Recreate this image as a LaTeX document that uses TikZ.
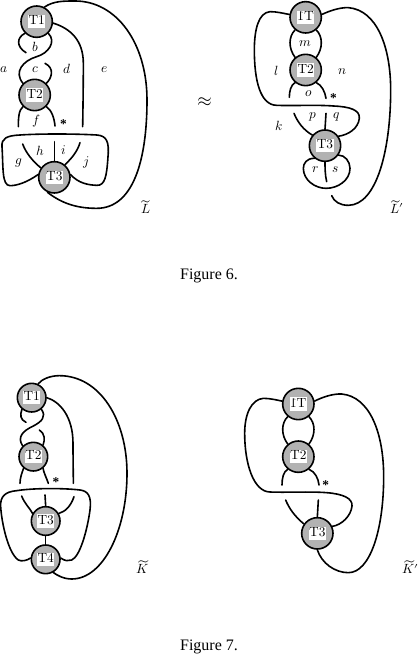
\documentclass[tikz,border=0pt]{standalone}
\usepackage{amsmath,amssymb}
\usepackage{fontspec}
\setmainfont{Liberation Serif}
\usepackage{unicode-math}
\setmathfont{Latin Modern Math}
\setlength{\fboxsep}{0.5pt}
\newcommand{\tagbox}[1]{\colorbox{white}{\rule[-2pt]{0pt}{8.8pt}\fontspec{Latin Modern Roman}\fontsize{10}{10}\selectfont #1}}
\tikzset{
  tangle/.style={circle,draw,line width=1.2pt,fill=gray!60,minimum size=23.5pt,inner sep=0pt},
  tangleb/.style={tangle,minimum size=21.5pt},
  strand/.style={line width=1.2pt,line cap=round},
  lab/.style={inner sep=0pt},
  star/.style={inner sep=0pt,anchor=north,font=\bfseries}
}

\begin{document}
\begin{tikzpicture}[x=0.25pt,y=-0.25pt]
    \useasboundingbox (0,0) rectangle (1257,1965);

    % Figure 6, left side
    \node[tangle] (LT1) at (110,65) {\tagbox{T1}};
    \node[tangle] (LT2) at (104,285) {\tagbox{T2}};
    \node[tangle] (LT3) at (163,532) {\tagbox{T3}};
    \coordinate (La) at (78,158);
    \coordinate (Lb) at (135,190);
    \coordinate (Lc) at (55,380);
    \coordinate (Ld) at (165,378);
    \coordinate (Le) at (248,380);
    \coordinate (Lf) at (68,432);
    \coordinate (Lg) at (163,425);
    \coordinate (Lh) at (240,428);

    % outer arc
    \draw[strand] (LT1.62) .. controls (160,3) and (190,3) .. (225,3)
        .. controls (350,3) and (441,130) .. (441,300)
        .. controls (441,480) and (400,625) .. (290,625)
        .. controls (230,625) and (185,610) .. (LT3.-115);
    \draw[strand] (LT1.-5) .. controls (210,85) and (250,120) .. (250,190)
        .. controls (250,250) and (249,320) .. (Le);

    % twist
    \draw[strand] (LT1.-135) .. controls (50,112) and (48,140) .. (La);
    \draw[strand] (LT1.-45) .. controls (170,125) and (145,160) .. (110,170)
        .. controls (70,182) and (40,215) .. (LT2.135);
    \draw[strand] (Lb) .. controls (165,205) and (155,235) .. (LT2.45);
    \draw[strand] (LT2.-135) .. controls (56,330) and (55,355) .. (Lc);
    \draw[strand] (LT2.-45) .. controls (155,330) and (163,355) .. (Ld);

    % band
    \draw[strand] (LT3.170) .. controls (80,548) and (50,557) .. (30,557)
        .. controls (5,557) and (10,500) .. (6,440)
        .. controls (4,415) and (20,407) .. (60,405)
        .. controls (120,401) and (220,401) .. (290,405)
        .. controls (320,407) and (328,425) .. (324,470)
        .. controls (320,530) and (315,557) .. (290,556)
        .. controls (265,555) and (235,550) .. (LT3.10);
    \draw[strand] (Lf) .. controls (78,460) and (100,485) .. (LT3.145);
    \draw[strand] (Lg) -- (LT3.north);
    \draw[strand] (Lh) .. controls (232,455) and (215,475) .. (LT3.50);

    \node[lab] (a) at (12,208) {$a$};
    \node[lab] (b) at (107,140) {$b$};
    \node[lab] (c) at (106,209) {$c$};
    \node[lab] (d) at (200,208) {$d$};
    \node[lab] (e) at (314,208) {$e$};
    \node[lab] (f) at (108,365) {$f$};
    \node[lab] (g) at (57,490) {$g$};
    \node[lab] (h) at (122,452) {$h$};
    \node[lab] (i) at (191,450) {$i$};
    \node[lab] (j) at (258,488) {$j$};
    \node[star] (Lstar) at (190,358) {*};
    \node[inner sep=0pt] (Lname) at (437,622) {$\widetilde{L}$};

    \node[inner sep=0pt,font=\Large] (approx) at (615,306) {$\approx$};

    % Figure 6, right side
    \begin{scope}[shift={(660,0)}]
        \node[tangle] (MT1) at (257,52) {\tagbox{\reflectbox{T1}}};
        \node[tangle] (MT2) at (257,210) {\tagbox{T2}};
        \node[tangle] (MT3) at (315,437) {\tagbox{T3}};
        \coordinate (Ma) at (208,292);
        \coordinate (Mb) at (318,295);
        \coordinate (Mc) at (222,340);
        \coordinate (Md) at (318,340);
        \coordinate (Me) at (320,545);
        \coordinate (Mf) at (335,587);

        \draw[strand] (MT1.170) .. controls (190,40) and (170,35) .. (150,35)
            .. controls (115,38) and (103,90) .. (103,150)
            .. controls (103,240) and (120,315) .. (170,316)
            .. controls (220,318) and (290,314) .. (340,318)
            .. controls (390,320) and (420,330) .. (418,355)
            .. controls (415,385) and (385,405) .. (MT3.35);
        \draw[strand] (MT1.-130) .. controls (205,110) and (205,145) .. (MT2.130);
        \draw[strand] (MT1.-50) .. controls (309,110) and (309,145) .. (MT2.50);
        \draw[strand] (MT1.10) .. controls (330,32) and (360,22) .. (385,23)
            .. controls (470,30) and (512,140) .. (512,270)
            .. controls (512,450) and (470,615) .. (385,616)
            .. controls (360,616) and (342,605) .. (Mf);
        \draw[strand] (MT2.-130) .. controls (212,255) and (208,275) .. (Ma);
        \draw[strand] (MT2.-50) .. controls (305,255) and (315,275) .. (Mb);
        \draw[strand] (Mc) .. controls (232,365) and (250,390) .. (MT3.140);
        \draw[strand] (Md) -- (MT3.north);
        \draw[strand] (MT3.-130) .. controls (260,475) and (250,490) .. (250,505)
            .. controls (250,540) and (285,565) .. (318,565)
            .. controls (355,565) and (390,540) .. (390,505)
            .. controls (390,485) and (375,465) .. (MT3.-35);
        \draw[strand] (MT3.south) .. controls (315,500) and (315,525) .. (Me);

        \node[lab] (k) at (176,378) {$k$};
        \node[lab] (l) at (170,213) {$l$};
        \node[lab] (m) at (255,130) {$m$};
        \node[lab] (n) at (368,215) {$n$};
        \node[lab] (o) at (266,282) {$o$};
        \node[lab] (p) at (279,352) {$p$};
        \node[lab] (q) at (351,352) {$q$};
        \node[lab] (r) at (287,510) {$r$};
        \node[lab] (s) at (347,510) {$s$};
        \node[star] (Mstar) at (340,281) {*};
        \node[inner sep=0pt] (Mname) at (532,620) {$\widetilde{L}'$};
    \end{scope}

    \node[inner sep=0pt,font=\fontsize{12}{12}\selectfont] (capsix) at (627,828) {Figure 6.};

    % Figure 7, left side
    \begin{scope}[shift={(0,1110)}]
        \node[tangleb] (KT1) at (95,83) {\tagbox{T1}};
        \node[tangleb] (KT2) at (100,260) {\tagbox{T2}};
        \node[tangleb] (KT3) at (137,453) {\tagbox{T3}};
        \node[tangleb] (KT4) at (137,568) {\tagbox{T4}};
        \coordinate (Ka) at (78,157);
        \coordinate (Kb) at (118,180);
        \coordinate (Kc) at (60,340);
        \coordinate (Kd) at (145,340);
        \coordinate (Ke) at (220,340);
        \coordinate (Kf) at (65,378);
        \coordinate (Kg) at (135,375);
        \coordinate (Kh) at (222,380);

        \draw[strand] (KT1.65) .. controls (125,28) and (150,17) .. (178,17)
            .. controls (300,17) and (381,150) .. (381,310)
            .. controls (381,480) and (310,627) .. (215,627)
            .. controls (190,627) and (170,615) .. (KT4.-60);
        \draw[strand] (KT1.0) .. controls (180,95) and (219,140) .. (219,220)
            .. controls (219,270) and (220,310) .. (Ke);

        \draw[strand] (KT1.-130) .. controls (60,135) and (60,148) .. (Ka);
        \draw[strand] (KT1.-50) .. controls (140,140) and (125,155) .. (100,168)
            .. controls (70,182) and (50,200) .. (KT2.135);
        \draw[strand] (Kb) .. controls (135,190) and (135,210) .. (KT2.50);
        \draw[strand] (KT2.-130) .. controls (65,310) and (60,325) .. (Kc);
        \draw[strand] (KT2.-50) .. controls (130,305) and (140,325) .. (Kd);

        \draw[strand] (KT4.175) .. controls (80,572) and (65,575) .. (55,570)
            .. controls (25,550) and (5,460) .. (2,410)
            .. controls (0,380) and (15,365) .. (50,362)
            .. controls (100,354) and (190,354) .. (240,360)
            .. controls (265,363) and (275,380) .. (270,420)
            .. controls (262,480) and (240,560) .. (215,570)
            .. controls (205,574) and (195,573) .. (KT4.5);
        \draw[strand] (Kf) .. controls (73,400) and (90,415) .. (KT3.150);
        \draw[strand] (Kg) -- (KT3.north);
        \draw[strand] (Kh) .. controls (212,410) and (195,425) .. (KT3.30);
        \draw[strand] (KT3.south) -- (KT4.north);

        \node[star] (Kstar) at (168,321) {*};
        \node[inner sep=0pt] (Kname) at (428,590) {$\widetilde{K}$};
    \end{scope}

    % Figure 7, right side
    \begin{scope}[shift={(660,1110)}]
        \node[tangle] (NT1) at (235,102) {\tagbox{\reflectbox{T1}}};
        \node[tangle] (NT2) at (235,260) {\tagbox{T2}};
        \node[tangle] (NT3) at (292,490) {\tagbox{T3}};
        \coordinate (Na) at (186,345);
        \coordinate (Nb) at (297,345);
        \coordinate (Nc) at (197,390);
        \coordinate (Nd) at (295,390);

        \draw[strand] (NT1.170) .. controls (170,90) and (150,85) .. (130,85)
            .. controls (95,88) and (74,130) .. (74,190)
            .. controls (74,280) and (100,365) .. (150,366)
            .. controls (200,368) and (270,364) .. (320,368)
            .. controls (370,372) and (398,385) .. (396,408)
            .. controls (393,438) and (365,465) .. (NT3.25);
        \draw[strand] (NT1.-130) .. controls (183,160) and (183,195) .. (NT2.130);
        \draw[strand] (NT1.-50) .. controls (287,160) and (287,195) .. (NT2.50);
        \draw[strand] (NT1.10) .. controls (310,80) and (340,71) .. (365,72)
            .. controls (450,80) and (491,190) .. (491,320)
            .. controls (491,480) and (450,608) .. (385,608)
            .. controls (345,608) and (305,580) .. (NT3.-90);
        \draw[strand] (NT2.-130) .. controls (190,305) and (186,325) .. (Na);
        \draw[strand] (NT2.-50) .. controls (285,305) and (295,325) .. (Nb);
        \draw[strand] (Nc) .. controls (207,415) and (225,440) .. (NT3.145);
        \draw[strand] (Nd) -- (NT3.north);

        \node[star] (Nstar) at (317,331) {*};
        \node[inner sep=0pt] (Nname) at (572,592) {$\widetilde{K}'$};
    \end{scope}

    \node[inner sep=0pt,font=\fontsize{12}{12}\selectfont] (capseven) at (627,1941) {Figure 7.};
\end{tikzpicture}
\end{document}
